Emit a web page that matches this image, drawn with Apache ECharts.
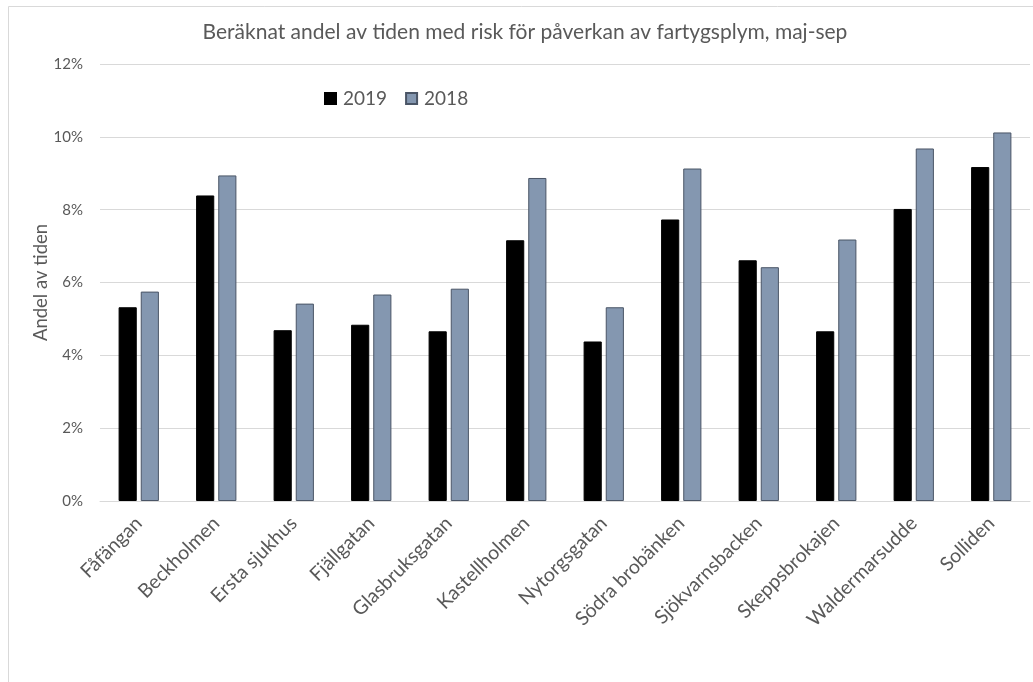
<!DOCTYPE html>
<html>
<head>
<meta charset="utf-8">
<style>
  html, body { margin: 0; padding: 0; background: #ffffff; }
  #chart { width: 1033px; height: 682px; }
</style>
<script src="https://cdn.jsdelivr.net/npm/echarts@6/dist/echarts.min.js"></script>
</head>
<body>
<div id="chart"></div>
<script>
const titleText = 'Beräknat andel av tiden med risk för påverkan av fartygsplym, maj-sep';
const yAxisName = 'Andel av tiden';
const categories = ['Fåfängan', 'Beckholmen', 'Ersta sjukhus', 'Fjällgatan', 'Glasbruksgatan', 'Kastellholmen', 'Nytorgsgatan', 'Södra brobänken', 'Sjökvarnsbacken', 'Skeppsbrokajen', 'Waldermarsudde', 'Solliden'];
const seriesNames = ['2019', '2018'];
const values2019 = [5.32, 8.39, 4.69, 4.84, 4.66, 7.16, 4.38, 7.73, 6.61, 4.66, 8.02, 9.17];
const values2018 = [5.75, 8.94, 5.42, 5.67, 5.83, 8.87, 5.32, 9.13, 6.42, 7.18, 9.68, 10.12];
const yTicks = [0, 2, 4, 6, 8, 10, 12];

const FONT = 'Lato, "Open Sans", sans-serif';
const chart = echarts.init(document.getElementById('chart'), null, { renderer: 'canvas' });
chart.setOption({
  animation: false,
  backgroundColor: '#ffffff',
  textStyle: { fontFamily: FONT },
  graphic: [{
    type: 'rect',
    shape: { x: 8.5, y: 6.5, width: 1100, height: 800 },
    style: { fill: 'none', stroke: '#d9d9d9', lineWidth: 1 },
    silent: true
  }],
  title: {
    text: titleText,
    left: 520,
    top: 17,
    textAlign: 'center',
    textStyle: { fontFamily: FONT, fontSize: 21, fontWeight: 'normal', color: '#595959' }
  },
  legend: {
    data: seriesNames,
    left: 319,
    top: 84,
    itemWidth: 11,
    itemHeight: 11,
    itemGap: 18,
    icon: 'rect',
    textStyle: { fontFamily: FONT, fontSize: 19, color: '#595959', padding: [0, 0, 0, 2] }
  },
  grid: { left: 100, right: 3, top: 64, bottom: 181, containLabel: false },
  xAxis: {
    type: 'category',
    data: categories,
    axisLine: { show: true, lineStyle: { color: '#d9d9d9', width: 1 } },
    axisTick: { show: false },
    axisLabel: { rotate: 45, interval: 0, margin: 19, fontFamily: FONT, fontSize: 19.5, color: '#595959' }
  },
  yAxis: {
    type: 'value',
    min: yTicks[0],
    max: yTicks[yTicks.length - 1],
    interval: yTicks[1] - yTicks[0],
    name: yAxisName,
    nameLocation: 'middle',
    nameGap: 49,
    nameRotate: 90,
    nameMoveOverlap: false,
    nameTextStyle: { fontFamily: FONT, fontSize: 18.5, color: '#595959' },
    axisLine: { show: false },
    axisTick: { show: false },
    splitLine: { lineStyle: { color: '#d9d9d9', width: 1 } },
    axisLabel: { formatter: '{value}%', margin: 17, fontFamily: FONT, fontSize: 15, color: '#595959' }
  },
  series: [
    {
      name: seriesNames[0],
      type: 'bar',
      data: values2019,
      barCategoryGap: '48%',
      barGap: '22%',
      itemStyle: { color: '#000000', borderColor: '#000000', borderWidth: 1 }
    },
    {
      name: seriesNames[1],
      type: 'bar',
      data: values2018,
      barCategoryGap: '48%',
      barGap: '22%',
      itemStyle: { color: '#8497B0', borderColor: '#4a5566', borderWidth: 1 }
    }
  ]
});
</script>
</body>
</html>
